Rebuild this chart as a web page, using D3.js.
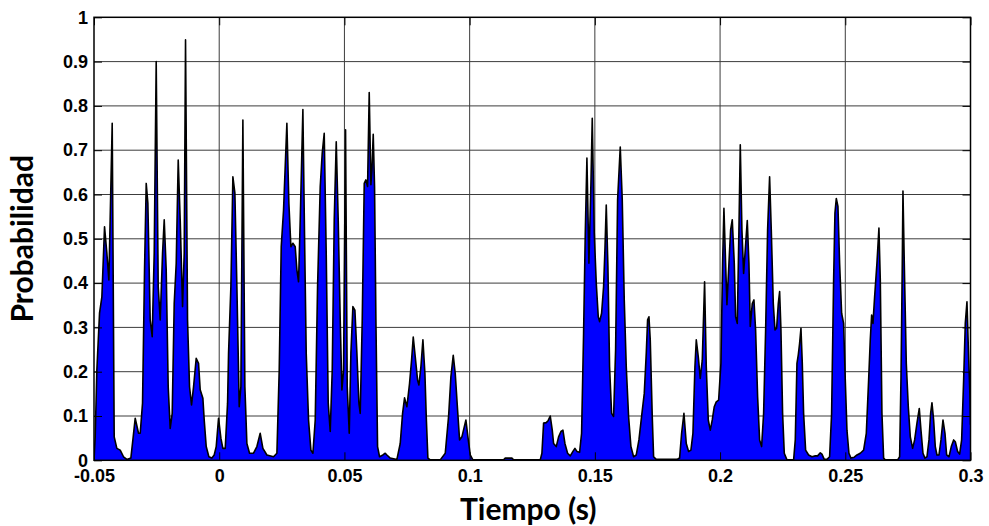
<!DOCTYPE html>
<html>
<head>
<meta charset="utf-8">
<script src="https://cdn.jsdelivr.net/npm/d3@7"></script>
<style>
  html, body { margin: 0; padding: 0; background: #fff; }
  svg { display: block; }
  .tick text { font-family: "Liberation Sans", Arial, sans-serif; font-weight: bold; font-size: 18px; fill: #000; }
  .titulo { font-family: Lato, "Open Sans", sans-serif; font-weight: bold; font-size: 30px; fill: #000; }
</style>
</head>
<body>
<svg id="chart" width="989" height="526"></svg>
<script>
// Probability trace over time: [time (s), probability]
const muestras = [
  [-0.05, 0], [-0.04952, 0.053], [-0.04886, 0.204], [-0.04779, 0.332], [-0.04686, 0.369],
  [-0.04579, 0.527], [-0.04486, 0.467], [-0.04406, 0.407], [-0.04273, 0.761], [-0.04193, 0.053],
  [-0.04087, 0.027], [-0.03954, 0.023], [-0.03821, 0.008], [-0.03687, 0.002], [-0.03528, 0.005],
  [-0.03448, 0.046], [-0.03355, 0.095], [-0.03222, 0.061], [-0.03155, 0.061], [-0.03062, 0.129],
  [-0.02982, 0.430], [-0.02915, 0.625], [-0.02849, 0.580], [-0.02756, 0.317], [-0.02676, 0.279],
  [-0.02596, 0.467], [-0.02516, 0.900], [-0.02436, 0.392], [-0.02356, 0.317], [-0.02263, 0.467],
  [-0.02196, 0.543], [-0.02117, 0.430], [-0.02037, 0.166], [-0.01957, 0.072], [-0.01877, 0.106],
  [-0.01797, 0.354], [-0.01717, 0.445], [-0.01637, 0.678], [-0.01558, 0.543], [-0.01464, 0.347],
  [-0.01398, 0.467], [-0.01345, 0.949], [-0.01265, 0.317], [-0.01185, 0.166], [-0.01105, 0.125],
  [-0.01025, 0.166], [-0.00919, 0.230], [-0.00825, 0.219], [-0.00759, 0.159], [-0.00652, 0.140],
  [-0.00599, 0.091], [-0.00519, 0.031], [-0.00413, 0.008], [-0.00293, 0.005], [-0.00200, 0.012],
  [-0.00120, 0.031], [-0.00027, 0.095], [0.00067, 0.050], [0.00146, 0.027], [0.00240, 0.027],
  [0.00333, 0.129], [0.00373, 0.242], [0.00466, 0.392], [0.00546, 0.640], [0.00626, 0.603],
  [0.00706, 0.392], [0.00799, 0.121], [0.00865, 0.166], [0.00945, 0.768], [0.01025, 0.166],
  [0.01105, 0.038], [0.01211, 0.016], [0.01371, 0.016], [0.01504, 0.031], [0.01637, 0.061],
  [0.01744, 0.027], [0.01904, 0.012], [0.02170, 0.008], [0.02303, 0.016], [0.02396, 0.204],
  [0.02476, 0.482], [0.02569, 0.565], [0.02702, 0.761], [0.02782, 0.580], [0.02862, 0.482],
  [0.02942, 0.490], [0.03035, 0.482], [0.03102, 0.430], [0.03168, 0.403], [0.03235, 0.543],
  [0.03341, 0.792], [0.03408, 0.505], [0.03474, 0.242], [0.03567, 0.091], [0.03661, 0.023],
  [0.03741, 0.016], [0.03834, 0.091], [0.03927, 0.392], [0.04034, 0.618], [0.04113, 0.693],
  [0.04193, 0.738], [0.04273, 0.467], [0.04353, 0.129], [0.04433, 0.065], [0.04513, 0.204],
  [0.04593, 0.543], [0.04673, 0.719], [0.04752, 0.543], [0.04832, 0.317], [0.04899, 0.159],
  [0.04965, 0.204], [0.05045, 0.746], [0.05112, 0.166], [0.05192, 0.061], [0.05258, 0.242],
  [0.05338, 0.347], [0.05418, 0.339], [0.05498, 0.242], [0.05578, 0.129], [0.05631, 0.106],
  [0.05711, 0.317], [0.05791, 0.625], [0.05857, 0.633], [0.05924, 0.618], [0.05990, 0.830],
  [0.06057, 0.622], [0.06097, 0.655], [0.06150, 0.736], [0.06203, 0.618], [0.06257, 0.317],
  [0.06323, 0.031], [0.06403, 0.008], [0.06536, 0.012], [0.06629, 0.016], [0.06696, 0.012],
  [0.06829, 0.005], [0.07095, 0.002], [0.07228, 0.038], [0.07322, 0.106], [0.07401, 0.141],
  [0.07495, 0.121], [0.07601, 0.174], [0.07681, 0.226], [0.07748, 0.278], [0.07841, 0.226],
  [0.07921, 0.181], [0.07974, 0.170], [0.08054, 0.211], [0.08134, 0.272], [0.08214, 0.196],
  [0.08267, 0.099], [0.08333, 0.005], [0.08427, 0.001], [0.08826, 0.001], [0.09026, 0.016],
  [0.09159, 0.099], [0.09252, 0.189], [0.09345, 0.237], [0.09425, 0.196], [0.09518, 0.114],
  [0.09598, 0.046], [0.09691, 0.053], [0.09771, 0.072], [0.09851, 0.091], [0.09931, 0.053],
  [0.10024, 0.012], [0.10130, 0.001], [0.11355, 0.001], [0.11422, 0.005], [0.11688, 0.005],
  [0.11755, 0.001], [0.12819, 0.001], [0.12886, 0.016], [0.12953, 0.084], [0.13059, 0.085],
  [0.13139, 0.090], [0.13219, 0.100], [0.13299, 0.068], [0.13352, 0.038], [0.13458, 0.031],
  [0.13552, 0.053], [0.13645, 0.065], [0.13725, 0.068], [0.13805, 0.038], [0.13911, 0.016],
  [0.14018, 0.010], [0.14124, 0.020], [0.14204, 0.027], [0.14284, 0.020], [0.14390, 0.018],
  [0.14470, 0.061], [0.14550, 0.287], [0.14617, 0.512], [0.14683, 0.682], [0.14763, 0.445],
  [0.14843, 0.625], [0.14896, 0.772], [0.14976, 0.512], [0.15056, 0.400], [0.15136, 0.324],
  [0.15189, 0.313], [0.15269, 0.332], [0.15349, 0.392], [0.15402, 0.475], [0.15455, 0.576],
  [0.15522, 0.437], [0.15588, 0.211], [0.15668, 0.106], [0.15748, 0.099], [0.15828, 0.249],
  [0.15908, 0.588], [0.16014, 0.707], [0.16094, 0.588], [0.16174, 0.362], [0.16254, 0.211],
  [0.16347, 0.099], [0.16440, 0.031], [0.16547, 0.008], [0.16653, 0.012], [0.16760, 0.046],
  [0.16866, 0.099], [0.16973, 0.151], [0.17053, 0.242], [0.17106, 0.317], [0.17160, 0.324],
  [0.17212, 0.272], [0.17292, 0.099], [0.17346, 0.008], [0.17452, 0.002], [0.18278, 0.002],
  [0.18384, 0.005], [0.18464, 0.061], [0.18557, 0.106], [0.18650, 0.038], [0.18743, 0.020],
  [0.18836, 0.023], [0.18916, 0.061], [0.18996, 0.211], [0.19050, 0.272], [0.19129, 0.234],
  [0.19209, 0.185], [0.19289, 0.226], [0.19382, 0.403], [0.19449, 0.211], [0.19529, 0.091],
  [0.19609, 0.068], [0.19688, 0.091], [0.19768, 0.121], [0.19848, 0.132], [0.19942, 0.136],
  [0.20035, 0.219], [0.20101, 0.445], [0.20154, 0.569], [0.20221, 0.445], [0.20274, 0.351],
  [0.20354, 0.445], [0.20421, 0.520], [0.20487, 0.543], [0.20567, 0.445], [0.20620, 0.324],
  [0.20687, 0.309], [0.20753, 0.520], [0.20807, 0.712], [0.20873, 0.520], [0.20940, 0.422],
  [0.21006, 0.475], [0.21086, 0.541], [0.21153, 0.445], [0.21206, 0.302], [0.21286, 0.354],
  [0.21353, 0.362], [0.21419, 0.294], [0.21499, 0.144], [0.21579, 0.046], [0.21659, 0.031],
  [0.21739, 0.106], [0.21819, 0.294], [0.21898, 0.520], [0.21978, 0.640], [0.22045, 0.520],
  [0.22125, 0.354], [0.22192, 0.294], [0.22258, 0.298], [0.22325, 0.354], [0.22378, 0.381],
  [0.22431, 0.294], [0.22497, 0.106], [0.22564, 0.016], [0.22671, 0.001], [0.22937, 0.001],
  [0.23003, 0.046], [0.23070, 0.219], [0.23123, 0.238], [0.23176, 0.264], [0.23230, 0.298],
  [0.23283, 0.219], [0.23336, 0.106], [0.23416, 0.023], [0.23536, 0.012], [0.23669, 0.008],
  [0.23802, 0.010], [0.23895, 0.010], [0.24002, 0.017], [0.24068, 0.014], [0.24161, 0.002],
  [0.24268, 0.002], [0.24374, 0.008], [0.24454, 0.106], [0.24534, 0.407], [0.24587, 0.558],
  [0.24641, 0.591], [0.24707, 0.573], [0.24774, 0.445], [0.24854, 0.332], [0.24933, 0.309],
  [0.25000, 0.181], [0.25067, 0.068], [0.25146, 0.016], [0.25226, 0.005], [0.25359, 0.007],
  [0.25466, 0.012], [0.25599, 0.016], [0.25732, 0.023], [0.25839, 0.061], [0.25932, 0.181],
  [0.25998, 0.272], [0.26052, 0.328], [0.26105, 0.309], [0.26171, 0.369], [0.26264, 0.445],
  [0.26344, 0.524], [0.26398, 0.407], [0.26464, 0.106], [0.26531, 0.005], [0.26597, 0.001],
  [0.27090, 0.001], [0.27170, 0.008], [0.27223, 0.181], [0.27276, 0.445], [0.27303, 0.608],
  [0.27356, 0.445], [0.27436, 0.219], [0.27516, 0.121], [0.27596, 0.053], [0.27689, 0.027],
  [0.27769, 0.046], [0.27862, 0.084], [0.27955, 0.117], [0.28022, 0.068], [0.28102, 0.016],
  [0.28182, 0.005], [0.28262, 0.008], [0.28342, 0.046], [0.28408, 0.106], [0.28462, 0.130],
  [0.28528, 0.091], [0.28594, 0.031], [0.28661, 0.012], [0.28741, 0.012], [0.28821, 0.046],
  [0.28901, 0.091], [0.28981, 0.061], [0.29047, 0.012], [0.29141, 0.008], [0.29233, 0.031],
  [0.29327, 0.046], [0.29393, 0.042], [0.29486, 0.020], [0.29566, 0.014], [0.29646, 0.046],
  [0.29726, 0.181], [0.29792, 0.309], [0.29859, 0.358], [0.29912, 0.257], [0.29979, 0.144],
  [0.30000, 0.080]
];

const xTicks = [-0.05, 0, 0.05, 0.1, 0.15, 0.2, 0.25, 0.3];
const xTickLabels = ["-0.05", "0", "0.05", "0.1", "0.15", "0.2", "0.25", "0.3"];
const yTicks = [0, 0.1, 0.2, 0.3, 0.4, 0.5, 0.6, 0.7, 0.8, 0.9, 1];
const yTickLabels = ["0", "0.1", "0.2", "0.3", "0.4", "0.5", "0.6", "0.7", "0.8", "0.9", "1"];
const xTitle = "Tiempo (s)";
const yTitle = "Probabilidad";

const W = 989, H = 526;
const margin = { top: 17.3, right: 18.5, bottom: 65.7, left: 94 };
const iw = W - margin.left - margin.right;
const ih = H - margin.top - margin.bottom;

const svg = d3.select("#chart");
const g = svg.append("g").attr("transform", `translate(${margin.left},${margin.top})`);

const x = d3.scaleLinear().domain([-0.05, 0.3]).range([0, iw]);
const y = d3.scaleLinear().domain([0, 1]).range([ih, 0]);

svg.append("defs").append("clipPath").attr("id", "plotClip")
  .append("rect").attr("width", iw).attr("height", ih);

// grid
const grid = g.append("g").attr("stroke", "#3c3c3c").attr("stroke-width", 1);
grid.selectAll("line.gx").data(xTicks.slice(1, -1)).join("line")
  .attr("x1", d => x(d)).attr("x2", d => x(d)).attr("y1", 0).attr("y2", ih);
grid.selectAll("line.gy").data(yTicks.slice(1, -1)).join("line")
  .attr("x1", 0).attr("x2", iw).attr("y1", d => y(d)).attr("y2", d => y(d));

// filled trace
const plot = g.append("g").attr("clip-path", "url(#plotClip)");
const area = d3.area().x(d => x(d[0])).y0(y(0)).y1(d => y(d[1]));
const line = d3.line().x(d => x(d[0])).y(d => y(d[1]));
plot.append("path").datum(muestras).attr("d", area).attr("fill", "#0000ff");
plot.append("path").datum(muestras).attr("d", line)
  .attr("fill", "none").attr("stroke", "#000").attr("stroke-width", 1.6)
  .attr("stroke-linejoin", "round");

// axes with inward ticks
const tickLen = 8;
const axB = d3.axisBottom(x).tickValues(xTicks).tickFormat((d, i) => xTickLabels[i])
  .tickSizeInner(-tickLen).tickSizeOuter(0).tickPadding(9);
const axL = d3.axisLeft(y).tickValues(yTicks).tickFormat((d, i) => yTickLabels[i])
  .tickSizeInner(-tickLen).tickSizeOuter(0).tickPadding(6);
const axT = d3.axisTop(x).tickValues(xTicks).tickFormat("").tickSizeInner(-tickLen).tickSizeOuter(0);
const axR = d3.axisRight(y).tickValues(yTicks).tickFormat("").tickSizeInner(-tickLen).tickSizeOuter(0);

g.append("g").attr("transform", `translate(0,${ih})`).call(axB);
g.append("g").call(axL);
g.append("g").call(axT);
g.append("g").attr("transform", `translate(${iw},0)`).call(axR);
g.selectAll(".domain").remove();
g.selectAll(".tick line").attr("stroke", "#000").attr("stroke-width", 1);

// frame
g.append("rect").attr("width", iw).attr("height", ih)
  .attr("fill", "none").attr("stroke", "#000").attr("stroke-width", 1.5);

// titles
svg.append("text").attr("class", "titulo")
  .attr("x", margin.left + iw / 2 - 4).attr("y", 520)
  .attr("text-anchor", "middle").text(xTitle);
svg.append("text").attr("class", "titulo")
  .attr("transform", `translate(33,${margin.top + ih / 2}) rotate(-90)`)
  .attr("text-anchor", "middle").text(yTitle);
</script>
</body>
</html>
